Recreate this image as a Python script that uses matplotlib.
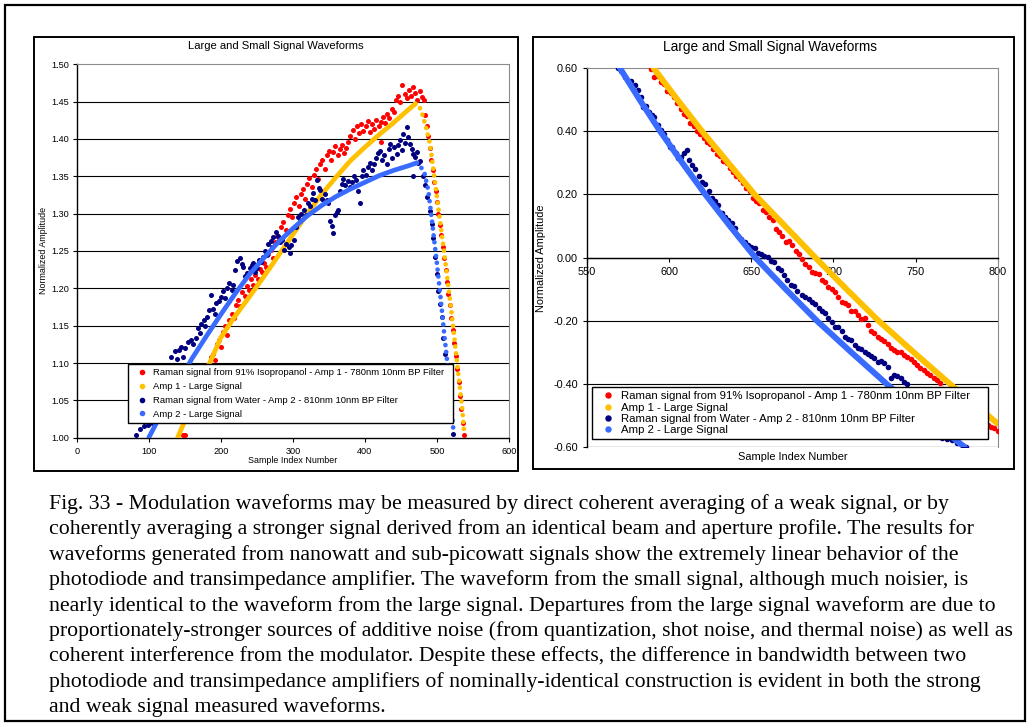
import matplotlib
matplotlib.use('Agg')
import matplotlib.pyplot as plt
import matplotlib.ticker as mticker
from matplotlib.lines import Line2D
from matplotlib.patches import Rectangle

# ---------------- data ----------------
# left panel, amp 1 large signal (yellow)
amp1_l_x = [140, 160, 180, 200, 220, 240, 260, 280, 300, 320, 340, 360, 380, 400, 420, 440, 460, 470, 475,
            480, 485, 490, 495, 500, 505, 510, 515, 520, 525, 530, 535, 538]
amp1_l_y = [1.000, 1.045, 1.090, 1.134, 1.163, 1.189, 1.216, 1.244, 1.272, 1.300, 1.326, 1.349, 1.371, 1.389,
            1.406, 1.422, 1.439, 1.447, 1.445,
            1.432, 1.415, 1.395, 1.360, 1.322, 1.285, 1.248, 1.209, 1.170, 1.126, 1.082, 1.040, 1.004]
# left panel, amp 2 large signal (blue)
amp2_l_x = [100, 120, 140, 160, 180, 200, 220, 240, 260, 280, 300, 320, 340, 360, 380, 400, 420, 440, 460, 472,
            478, 483, 488, 493, 500, 505, 510, 515, 519, 523]
amp2_l_y = [1.000, 1.037, 1.072, 1.106, 1.136, 1.165, 1.193, 1.219, 1.241, 1.262, 1.280, 1.297, 1.311, 1.323,
            1.333, 1.342, 1.351, 1.358, 1.364, 1.368,
            1.362, 1.353, 1.331, 1.291, 1.233, 1.188, 1.140, 1.095, 1.054, 1.008]
# left panel, raman 91% isopropanol (red)
red_l_x = [148, 150, 178, 181, 184, 186, 189, 192, 195, 198, 200, 203, 206, 209, 212, 215, 218, 221, 224, 227,
           230, 233, 236, 239, 242, 245, 248, 251, 254, 257, 260, 263, 266, 269, 272, 275, 278, 281, 284, 287,
           290, 293, 296, 299, 302, 305, 308, 311, 314, 317, 320, 323, 326, 329, 332, 335, 338, 341, 344, 347,
           350, 353, 356, 359, 362, 365, 368, 371, 374, 377, 380, 383, 386, 389, 392, 395, 398, 401, 404, 407,
           410, 413, 416, 419, 422, 423, 425, 428, 431, 434, 437, 440, 443, 446, 449, 452, 455, 458, 461, 464,
           467, 470, 473, 476, 479, 482,
           484, 486, 488, 490, 492, 494, 496, 498, 500, 502, 504, 506, 508, 510, 512, 514, 516, 518, 520, 522,
           524, 526, 528, 530, 532, 534, 536, 538]
red_l_y = [1.004, 1.003, 1.085, 1.097, 1.092, 1.108, 1.112, 1.104, 1.125, 1.131, 1.122, 1.142, 1.150, 1.138,
           1.158, 1.166, 1.160, 1.178, 1.185, 1.176, 1.195, 1.190, 1.203, 1.198, 1.212, 1.205, 1.218, 1.213,
           1.226, 1.222, 1.234, 1.228, 1.246, 1.252, 1.240, 1.262, 1.270, 1.265, 1.282, 1.289, 1.278, 1.298,
           1.306, 1.296, 1.314, 1.322, 1.310, 1.326, 1.333, 1.320, 1.340, 1.348, 1.336, 1.352, 1.360, 1.346,
           1.366, 1.372, 1.360, 1.378, 1.384, 1.372, 1.382, 1.390, 1.378, 1.386, 1.392, 1.381, 1.388, 1.396,
           1.404, 1.412, 1.400, 1.417, 1.408, 1.420, 1.411, 1.418, 1.424, 1.409, 1.420, 1.414, 1.426, 1.417,
           1.423, 1.396, 1.430, 1.421, 1.433, 1.428, 1.440, 1.436, 1.452, 1.458, 1.449, 1.472, 1.460, 1.455,
           1.466, 1.458, 1.470, 1.461, 1.452, 1.464, 1.456, 1.452,
           1.432, 1.418, 1.404, 1.388, 1.372, 1.358, 1.343, 1.330, 1.316, 1.300, 1.285, 1.271, 1.256, 1.240,
           1.224, 1.209, 1.193, 1.178, 1.160, 1.144, 1.127, 1.110, 1.092, 1.074, 1.056, 1.038, 1.020, 1.004]
# left panel, raman water (navy)
navy_l_x = [82, 88, 94, 99, 104, 131, 136, 139, 142, 145, 148, 151, 155, 158, 162, 165, 168, 171, 173, 176,
            178, 181, 184, 186, 189, 192, 194, 197, 200, 203, 206, 209, 212, 215, 217, 220, 223, 226, 229, 231,
            234, 237, 240, 243, 245, 248, 250, 253, 256, 259, 262, 264, 266, 269, 271, 273, 276, 279, 282, 285,
            288, 291, 294, 296, 298, 301, 304, 307, 310, 312, 315, 318, 321, 324, 326, 328, 331, 333, 336, 338,
            341, 344, 347, 349, 352, 354, 356, 358, 361, 363, 366, 368, 370, 373, 376, 379, 382, 385, 388, 390,
            393, 396, 398, 401, 404, 407, 410, 412, 415, 418, 421, 424, 427, 430, 433, 435, 438, 441, 444, 446,
            449, 451, 453, 456, 458, 460, 463, 465, 467, 467, 470, 472, 474, 476,
            480, 483, 486, 490, 493, 495, 497, 500, 502, 504, 507, 509, 511, 513, 516, 518, 522]
navy_l_y = [1.003, 1.011, 1.015, 1.017, 1.020, 1.108, 1.116, 1.106, 1.118, 1.121, 1.108, 1.120, 1.128, 1.131,
            1.125, 1.134, 1.147, 1.140, 1.152, 1.157, 1.149, 1.162, 1.171, 1.191, 1.173, 1.165, 1.180, 1.183,
            1.189, 1.196, 1.187, 1.200, 1.207, 1.198, 1.205, 1.225, 1.236, 1.240, 1.233, 1.229, 1.216, 1.220,
            1.227, 1.231, 1.234, 1.222, 1.227, 1.238, 1.235, 1.242, 1.250, 1.245, 1.260, 1.263, 1.255, 1.269,
            1.276, 1.270, 1.262, 1.265, 1.252, 1.259, 1.256, 1.247, 1.258, 1.265, 1.282, 1.296, 1.290, 1.300,
            1.305, 1.298, 1.314, 1.310, 1.320, 1.327, 1.318, 1.345, 1.335, 1.332, 1.320, 1.326, 1.318, 1.314,
            1.290, 1.283, 1.274, 1.298, 1.302, 1.305, 1.330, 1.340, 1.347, 1.338, 1.344, 1.336, 1.342, 1.350,
            1.345, 1.330, 1.314, 1.350, 1.359, 1.352, 1.362, 1.368, 1.358, 1.367, 1.374, 1.381, 1.384, 1.372,
            1.378, 1.367, 1.386, 1.393, 1.375, 1.389, 1.380, 1.392, 1.398, 1.385, 1.407, 1.395, 1.416, 1.402,
            1.393, 1.386, 1.380, 1.351, 1.376, 1.382, 1.368, 1.371,
            1.350, 1.338, 1.322, 1.304, 1.286, 1.268, 1.242, 1.219, 1.197, 1.179, 1.161, 1.134, 1.112, 1.081,
            1.052, 1.023, 1.005]

# right panel
amp1_r_x = [590.5, 605, 620, 636, 652, 670.5, 689, 708, 727.5, 749, 771, 786, 800]
amp1_r_y = [0.600, 0.500, 0.400, 0.300, 0.200, 0.100, 0.000, -0.100, -0.200, -0.300, -0.400, -0.465, -0.525]
amp2_r_x = [570, 582, 594.5, 608, 622, 637, 652.5, 671, 690, 711, 732.5, 756, 780]
amp2_r_y = [0.600, 0.500, 0.400, 0.300, 0.200, 0.100, 0.000, -0.100, -0.200, -0.300, -0.400, -0.500, -0.600]
red_r_x = [589, 591, 593, 595, 597, 599, 601, 603, 605, 607, 609, 611, 613, 615, 617, 619, 621, 623, 625, 627,
           629, 631, 633, 635, 637, 639, 641, 643, 645, 647, 649, 651, 653, 655, 657, 659, 661, 663, 665, 667,
           669, 671, 673, 675, 677, 679, 681, 683, 685, 687, 689, 691, 693, 695, 697, 699, 701, 703, 705, 707,
           709, 711, 713, 715, 717, 719, 721, 723, 725, 727, 729, 731, 733, 735, 737, 739, 741, 743, 745, 747,
           749, 751, 753, 755, 757, 759, 761, 763, 765, 767, 770, 773, 776, 779, 782, 785, 788, 790, 792, 794,
           796, 798, 800]
red_r_y = [0.598, 0.570, 0.576, 0.555, 0.548, 0.528, 0.520, 0.508, 0.490, 0.470, 0.454, 0.449, 0.425, 0.418,
           0.402, 0.392, 0.378, 0.365, 0.358, 0.343, 0.328, 0.322, 0.306, 0.298, 0.283, 0.272, 0.258, 0.250,
           0.235, 0.220, 0.210, 0.188, 0.180, 0.172, 0.150, 0.145, 0.128, 0.118, 0.092, 0.080, 0.068, 0.050,
           0.052, 0.040, 0.020, 0.010, -0.005, -0.020, -0.030, -0.045, -0.048, -0.052, -0.070, -0.078, -0.092,
           -0.100, -0.108, -0.125, -0.140, -0.145, -0.150, -0.170, -0.168, -0.182, -0.195, -0.190, -0.212,
           -0.232, -0.238, -0.250, -0.258, -0.265, -0.272, -0.285, -0.292, -0.298, -0.300, -0.308, -0.313,
           -0.322, -0.330, -0.340, -0.350, -0.356, -0.366, -0.372, -0.382, -0.388, -0.397, -0.415, -0.428,
           -0.440, -0.452, -0.468, -0.478, -0.490, -0.502, -0.510, -0.520, -0.528, -0.535, -0.540, -0.550]
navy_r_x = [568.7, 571, 573, 575, 577, 579, 581, 583, 584.3, 586, 588, 589.4, 591, 593, 595, 597, 599, 600.5,
            602, 604, 605.6, 607, 609, 611, 612, 614, 616, 618, 620, 622, 624, 626, 628, 630, 632, 634, 636,
            638, 640, 642, 644, 646, 648, 650, 652, 654, 656, 658, 660, 662, 664, 666.5, 668, 670, 672, 674,
            676, 678, 680.7, 683, 685, 687, 689, 691, 693, 695, 697, 699, 701, 703, 705, 707, 709, 711, 713,
            715, 717, 719, 721, 723, 725, 727, 729, 731, 733, 735, 737, 739, 741, 743, 745, 748, 752, 756, 760,
            764, 766, 769, 772, 775, 778, 781]
navy_r_y = [0.599, 0.590, 0.573, 0.560, 0.558, 0.546, 0.530, 0.508, 0.478, 0.480, 0.462, 0.451, 0.445, 0.420,
            0.405, 0.390, 0.372, 0.351, 0.350, 0.330, 0.314, 0.318, 0.330, 0.341, 0.310, 0.293, 0.280, 0.258,
            0.240, 0.232, 0.212, 0.188, 0.178, 0.165, 0.140, 0.130, 0.118, 0.110, 0.093, 0.070, 0.060, 0.051,
            0.040, 0.035, 0.030, 0.015, 0.010, 0.005, 0.003, -0.010, -0.015, -0.034, -0.040, -0.055, -0.070,
            -0.087, -0.090, -0.105, -0.118, -0.125, -0.130, -0.139, -0.148, -0.160, -0.168, -0.176, -0.190,
            -0.205, -0.218, -0.220, -0.232, -0.250, -0.258, -0.262, -0.275, -0.287, -0.290, -0.297, -0.305,
            -0.312, -0.318, -0.330, -0.328, -0.334, -0.345, -0.382, -0.370, -0.375, -0.382, -0.392, -0.400,
            -0.420, -0.445, -0.470, -0.500, -0.548, -0.572, -0.575, -0.577, -0.585, -0.592, -0.600]

labels = ['Raman signal from 91% Isopropanol - Amp 1 - 780nm 10nm BP Filter',
          'Amp 1 - Large Signal',
          'Raman signal from Water - Amp 2 - 810nm 10nm BP Filter',
          'Amp 2 - Large Signal']
colors = ['#FF0000', '#FFC000', '#000080', '#3A6BFF']
title = 'Large and Small Signal Waveforms'

caption = ["Fig. 33 - Modulation waveforms may be measured by direct coherent averaging of a weak signal, or by",
           "coherently averaging a stronger signal derived from an identical beam and aperture profile. The results for",
           "waveforms generated from nanowatt and sub-picowatt signals show the extremely linear behavior of the",
           "photodiode and transimpedance amplifier. The waveform from the small signal, although much noisier, is",
           "nearly identical to the waveform from the large signal. Departures from the large signal waveform are due to",
           "proportionately-stronger sources of additive noise (from quantization, shot noise, and thermal noise) as well as",
           "coherent interference from the modulator. Despite these effects, the difference in bandwidth between two",
           "photodiode and transimpedance amplifiers of nominally-identical construction is evident in both the strong",
           "and weak signal measured waveforms."]

# ---------------- figure ----------------
W, H = 1029, 725
plt.rcParams['font.family'] = ['Liberation Sans', 'DejaVu Sans']
fig = plt.figure(figsize=(W / 100, H / 100), dpi=100)


def fx(px):
    return px / W


def fy(py):
    return 1 - py / H


def box(x0, y0, x1, y1, lw=1.5):
    fig.add_artist(Rectangle((fx(x0), fy(y1)), (x1 - x0) / W, (y1 - y0) / H,
                             transform=fig.transFigure, fill=False, ec='black', lw=lw))


box(5, 5, 1025, 721, 1.6)
box(34, 37, 518, 471, 1.4)
box(533, 37, 1014, 469, 1.4)


def draw_large(ax, xs, ys, color, lw, dotted_tail):
    k = ys.index(max(ys)) if dotted_tail else len(xs) - 1
    ax.plot(xs[:k + 1], ys[:k + 1], color=color, lw=lw, solid_capstyle='round', zorder=3)
    if dotted_tail:
        ax.plot(xs[k:], ys[k:], color=color, lw=lw, ls=(0, (0.01, 1.45)),
                dash_capstyle='round', zorder=3)


def style_axes(ax, tick_fs, ylen, ypad, xpad):
    ax.set_axisbelow(True)
    ax.grid(axis='y', color='black', lw=0.8)
    ax.spines['top'].set_color('#8c8c8c')
    ax.spines['right'].set_color('#8c8c8c')
    ax.spines['left'].set_linewidth(1.0)
    ax.spines['bottom'].set_linewidth(1.0)
    ax.tick_params(axis='y', direction='out', length=ylen, width=0.8, pad=ypad, labelsize=tick_fs)
    ax.tick_params(axis='x', direction='out', length=3, width=0.8, pad=xpad, labelsize=tick_fs)
    ax.yaxis.set_major_formatter(mticker.FormatStrFormatter('%.2f'))
    gl = ax.get_ygridlines()
    gl[0].set_visible(False)
    gl[-1].set_visible(False)


def add_legend(ax, x0, y1, x1, fs, ms, ls, bp):
    handles = [Line2D([], [], ls='none', marker='o', ms=ms, color=c, label=l)
               for c, l in zip(colors, labels)]
    leg = ax.legend(handles=handles, loc='lower left', mode='expand',
                    bbox_to_anchor=(fx(x0), fy(y1), (x1 - x0) / W, 0.01),
                    bbox_transform=fig.transFigure, borderaxespad=0, fontsize=fs,
                    fancybox=False, edgecolor='black', framealpha=1, labelspacing=ls,
                    borderpad=bp, handlelength=2.0, handletextpad=0.15)
    leg.get_frame().set_linewidth(1.0)
    leg.set_zorder(10)


# ---- left panel ----
ax1 = fig.add_axes([fx(76.7), fy(437.7), (509 - 76.7) / W, (437.7 - 64.3) / H])
ax1.set_xlim(0, 600)
ax1.set_ylim(1.0, 1.5)
ax1.set_xticks(range(0, 601, 100))
ax1.set_yticks([1.0 + 0.05 * i for i in range(11)])
ax1.scatter(red_l_x, red_l_y, s=13, color=colors[0], lw=0, zorder=3)
draw_large(ax1, amp1_l_x, amp1_l_y, colors[1], 3.4, True)
ax1.scatter(navy_l_x, navy_l_y, s=13, color=colors[2], lw=0, zorder=3)
draw_large(ax1, amp2_l_x, amp2_l_y, colors[3], 3.4, True)
style_axes(ax1, 6.6, 3, 2.5, 3.4)
add_legend(ax1, 127.7, 423.3, 453.3, 6.8, 3.0, 0.5, 0.5)
fig.text(fx(276), fy(46), title, fontsize=8.1, ha='center', va='center')
fig.text(fx(293), fy(460), 'Sample Index Number', fontsize=6.4, ha='center', va='center')
fig.text(fx(43), fy(250), 'Normalized Amplitude', fontsize=6.4, ha='center', va='center', rotation=90)

# ---- right panel ----
ax2 = fig.add_axes([fx(587), fy(447.3), (997.7 - 587) / W, (447.3 - 68) / H])
ax2.set_xlim(550, 800)
ax2.set_ylim(-0.6, 0.6)
ax2.set_xticks(range(550, 801, 50))
ax2.set_yticks([-0.6, -0.4, -0.2, 0.0, 0.2, 0.4, 0.6])
ax2.spines['bottom'].set_position(('data', 0))
ax2.axhline(-0.6, color='#8c8c8c', lw=1.0, zorder=2.5)
ax2.scatter(red_r_x, red_r_y, s=16, color=colors[0], lw=0, zorder=3)
draw_large(ax2, amp1_r_x, amp1_r_y, colors[1], 4.3, False)
ax2.scatter(navy_r_x, navy_r_y, s=16, color=colors[2], lw=0, zorder=3)
draw_large(ax2, amp2_r_x, amp2_r_y, colors[3], 4.3, False)
style_axes(ax2, 7.8, 3, 3.6, 4.0)
add_legend(ax2, 592.3, 439.3, 988.3, 8.2, 3.6, 0.12, 0.35)
fig.text(fx(770), fy(47.5), title, fontsize=9.8, ha='center', va='center')
fig.text(fx(793), fy(457), 'Sample Index Number', fontsize=7.9, ha='center', va='center')
fig.text(fx(541), fy(258), 'Normalized Amplitude', fontsize=7.9, ha='center', va='center', rotation=90)

# ---- caption ----
renderer = fig.canvas.get_renderer()
probe = fig.text(0, 0, caption[5], family='Liberation Serif', fontsize=12)
width = probe.get_window_extent(renderer).width
probe.remove()
cap_fs = 12 * 961.0 / width
for i, line in enumerate(caption):
    fig.text(fx(49), fy(509 + 25.4 * i), line, family='Liberation Serif', fontsize=cap_fs,
             ha='left', va='baseline')

fig.savefig('out.png', dpi=100)
